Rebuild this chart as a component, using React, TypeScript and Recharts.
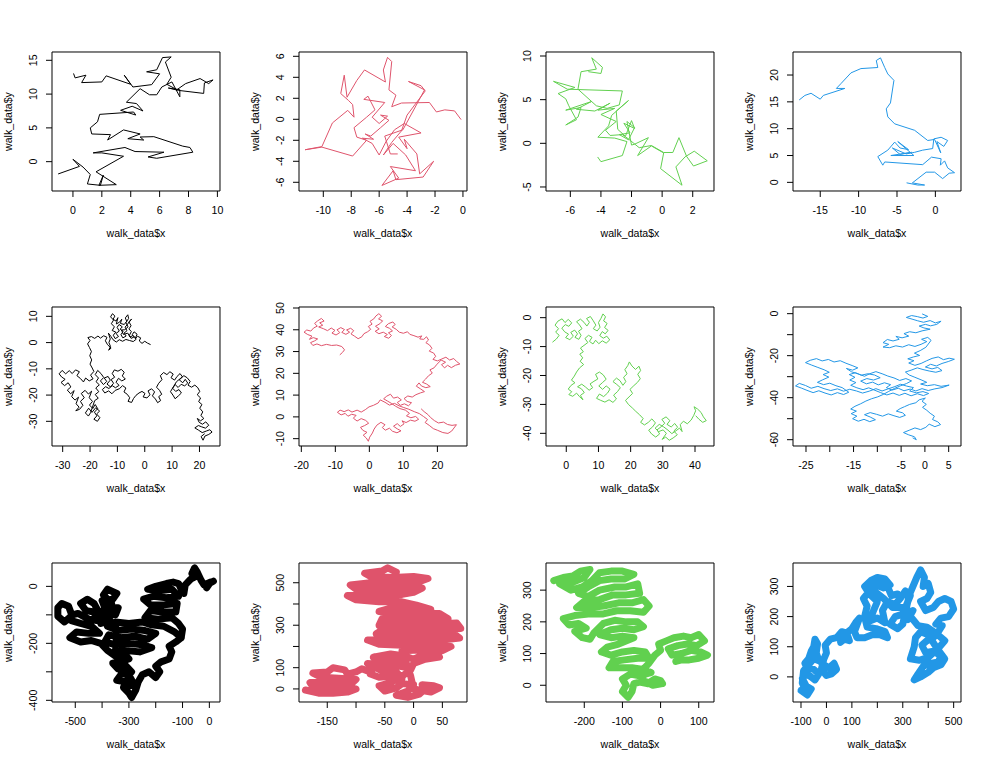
import { LineChart, Line, XAxis, YAxis, ReferenceArea } from "recharts";

type Pt = [number, number];

// ---- walks (x, y) ----
const walk1: Pt[] = [
  [-1.0, -1.8], [0.45, -0.7], [0.0, 0.35], [0.7, -0.8], [1.2, -1.9], [1.0, -3.3], [1.9, -3.5], [2.1, -2.0],
  [1.8, -3.5], [3.0, -3.4], [1.6, -1.5], [3.5, 0.8], [2.0, 1.3], [1.4, 1.3], [3.6, 2.1], [4.3, 1.5],
  [6.3, 1.4], [5.2, 0.7], [5.8, 0.5], [8.3, 1.4], [8.1, 2.1], [7.6, 2.3], [5.6, 3.7], [4.65, 3.65],
  [4.9, 3.2], [3.8, 3.4], [4.65, 4.1], [3.5, 4.7], [2.4, 3.2], [2.6, 4.0], [1.3, 4.1], [1.2, 5.0],
  [1.7, 5.9], [1.85, 7.0], [4.2, 7.35], [4.35, 6.9], [3.3, 7.6], [4.1, 8.2], [4.85, 7.5], [4.4, 8.6],
  [3.7, 8.8], [4.65, 10.8], [5.3, 9.9], [5.8, 9.9], [6.15, 11.05], [6.85, 11.8], [7.4, 9.6], [7.4, 10.65],
  [6.6, 10.9], [7.3, 10.55], [9.05, 10.1], [9.1, 11.65], [9.7, 12.1], [9.4, 11.55], [8.8, 12.3], [7.8, 11.55],
  [7.2, 10.65], [6.5, 11.45], [6.8, 12.5], [6.4, 14.75], [6.8, 15.5], [6.2, 15.4], [5.8, 13.6], [5.1, 13.3],
  [6.0, 13.0], [5.45, 11.4], [4.15, 11.05], [3.55, 12.8], [4.0, 11.45], [2.3, 12.7], [2.0, 11.8], [0.6, 11.7],
  [0.9, 12.8], [0.15, 12.4], [0.05, 13.0],
];

const walk2: Pt[] = [
  [-0.15, 0], [-0.6, 0.8], [-1.3, 0.9], [-1.9, 0.7], [-2.4, 1.6], [-4.4, 1.55], [-5.1, 1.2], [-4.8, 2.3],
  [-5.3, 2.8], [-5.1, 5.5], [-5.4, 5.9], [-5.7, 4.7], [-5.55, 3.55], [-7.05, 4.7], [-7.6, 3.7], [-8.3, 2.1],
  [-8.5, 4.2], [-8.75, 2.45], [-8.2, 1.8], [-7.9, 1.4], [-7.8, 0.2], [-8.25, 0.85], [-9.35, -0.35], [-10.1, -2.6],
  [-11.3, -2.9], [-10.1, -2.65], [-7.9, -3.5], [-6.9, -2.0], [-7.6, -1.7], [-7.8, -0.8], [-6.9, 0.2], [-6.3, 0.9],
  [-6.8, 2.2], [-7.1, 1.9], [-5.6, 1.6], [-6.5, 0.2], [-6.0, -0.4], [-5.4, 0.3], [-5.9, 0.4], [-5.3, -0.1],
  [-5.9, -0.8], [-6.6, -1.6], [-7.0, -1.4], [-6.4, -1.9], [-7.2, -1.8], [-6.5, -2.3], [-6.0, -3.4], [-5.5, -2.1],
  [-4.9, -1.0], [-4.2, -0.4], [-3.0, -1.3], [-4.6, -1.7], [-4.0, -2.8], [-4.2, -1.9], [-3.3, -3.3], [-3.1, -5.2],
  [-2.1, -4.0], [-2.85, -5.5], [-4.8, -5.75], [-5.0, -4.9], [-5.8, -6.3], [-4.6, -5.6], [-5.2, -4.5], [-3.4, -4.9],
  [-4.1, -3.4], [-5.0, -2.3], [-5.7, -3.4], [-5.1, -2.2], [-4.4, -1.1], [-4.0, 0.4], [-2.7, 2.7], [-3.0, 3.2],
  [-3.9, 3.6], [-2.75, 2.8], [-4.3, -1.0], [-5.6, -1.6], [-5.2, -3.3], [-4.7, -3.3],
];

const walk3: Pt[] = [
  [-4.2, -1.6], [-4.0, -2.1], [-2.6, -1.4], [-2.3, 0.2], [-3.1, 0.6], [-4.2, 0.7], [-3.5, 2.0], [-3.3, 3.2],
  [-2.2, 4.9], [-3.0, 3.7], [-2.9, 1.6], [-2.4, 0.8], [-2.0, 2.6], [-1.8, 1.7], [-2.5, 2.3], [-2.1, 1.2],
  [-2.8, 1.0], [-2.2, 0.4], [-1.8, 1.8], [-2.3, 2.5], [-2.0, -0.2], [-1.8, -0.1], [-0.9, 0.65], [-1.6, -1.4],
  [-0.7, -0.3], [0.1, -1.1], [-0.1, -2.9], [1.3, -4.8], [0.9, -2.7], [1.5, -1.55], [2.1, -0.9], [2.95, -2.0],
  [2.05, -2.6], [1.6, -1.5], [1.1, 0.65], [0.7, -1.05], [0.1, -1.05], [-0.7, -0.25], [-1.5, -0.5], [-2.2, 0.5],
  [-2.6, 1.0], [-3.4, 0.9], [-3.7, 1.5], [-3.0, 2.5], [-4.0, 3.3], [-3.1, 4.0], [-4.2, 3.8], [-3.4, 4.6],
  [-4.4, 3.7], [-5.6, 3.9], [-4.6, 4.8], [-6.3, 3.8], [-5.3, 4.1], [-5.5, 3.0], [-6.3, 2.1], [-5.6, 2.7],
  [-6.1, 4.3], [-6.3, 5.1], [-6.8, 5.7], [-5.7, 6.4], [-7.1, 7.1], [-6.2, 6.2], [-2.6, 6.0], [-2.8, 4.4],
  [-3.6, 4.0], [-4.3, 4.3], [-5.5, 6.2], [-5.3, 8.2], [-4.3, 8.5], [-4.6, 9.8], [-3.9, 8.7], [-4.0, 8.0],
  [-4.8, 8.2],
];

const walk4: Pt[] = [
  [-3.7, -0.1], [-2.3, -0.5], [-1.4, -0.5], [-3.0, -0.1], [-1.2, 1.9], [-0.1, 1.9], [0.95, 0.7], [1.8, 1.7],
  [2.5, 1.8], [1.6, 2.7], [1.2, 4.0], [0.65, 3.2], [0.75, 4.4], [-0.5, 4.7], [-1.65, 3.3], [-6.6, 3.8],
  [-6.85, 3.2], [-7.5, 4.8], [-6.2, 6.0], [-5.3, 7.5], [-4.6, 6.4], [-3.5, 6.1], [-4.9, 7.6], [-2.8, 5.0],
  [-5.8, 5.0], [-3.1, 5.6], [-4.6, 5.2], [-5.6, 6.4], [-3.8, 5.3], [-2.7, 5.6], [-1.65, 6.0], [-0.35, 6.3],
  [-0.2, 8.1], [0.75, 8.4], [1.6, 7.8], [1.1, 6.7], [0.2, 7.6], [0.7, 5.5], [-0.1, 8.0], [-1.0, 7.8],
  [-2.7, 9.7], [-5.3, 10.9], [-6.2, 12.2], [-6.4, 13.7], [-5.85, 14.8], [-5.4, 19.0], [-6.2, 20.2], [-6.6, 21.4],
  [-7.15, 23.2], [-7.7, 22.7], [-7.5, 21.4], [-9.7, 21.2], [-11.0, 20.4], [-12.3, 18.4], [-12.9, 17.5], [-11.8, 17.5],
  [-14.6, 16.2], [-15.0, 15.5], [-16.2, 16.6], [-17.0, 16.2], [-17.7, 15.4],
];

const walk5: Pt[] = [
  [2, -0.7], [1, -0.2], [0, 0.5], [-1, -0.3], [-2, 0.6], [-1.5, 1.8], [-2.6, 2.4], [-3.5, 1.5], [-2.8, 3.2],
  [-3.9, 4.1], [-4.6, 3], [-3.8, 2.2], [-5, 1.6], [-5.6, 2.8], [-4.9, 4.2], [-5.8, 5.2], [-5, 6.4], [-5.7, 7.8],
  [-4.8, 9], [-5.6, 8.1], [-6.4, 6.8], [-7.2, 5.9], [-6.5, 4.5], [-7.6, 3.6], [-6.8, 2.5], [-8, 1.8], [-8.7, 3],
  [-7.9, 4.3], [-9, 5.1], [-8.2, 6], [-9.4, 6.9], [-10.1, 5.8], [-9.3, 4.4], [-10.5, 3.5], [-9.6, 2.3],
  [-10.8, 1.5], [-11.5, 2.8], [-10.6, 4], [-11.9, 4.6], [-11.1, 6], [-12.2, 7.2], [-11.4, 8.6], [-12.5, 9.8],
  [-11.8, 11], [-10.9, 10.1], [-11.6, 8.9], [-10.5, 8.2], [-9.8, 9.5], [-10.4, 7.1], [-9.2, 7.8], [-8.4, 8.9],
  [-8.9, 7.3], [-7.5, 6.9], [-6.6, 8.1], [-7.1, 9.4], [-6.2, 10.6], [-5.9, 9.2], [-6.9, 7.6], [-6.1, 6],
  [-7.3, 4.9], [-8.5, 4.8], [-7.8, 3.1], [-6.2, 3.6], [-5.4, 2.1], [-4.3, 2.7], [-3.1, 1.3], [-4.2, 0.4],
  [-5.6, 0.8], [-6.9, 1.2], [-8.1, 0.5], [-9.3, 1.1], [-10.4, 0.2], [-11.6, 1.1], [-12.4, 2.4], [-13.3, 3.6],
  [-12.6, 1.4], [-13.1, 0], [-12.5, -1.5], [-13.2, -2.9], [-12.3, -2.1], [-13.6, -0.8], [-14.4, 0.7], [-13.8, 2],
  [-15, 2.6], [-16.2, 1.7], [-17.1, 2.5], [-18.3, 1.6], [-19.5, 2.3], [-20.8, 1.9], [-20, 0.8], [-20.9, -0.5],
  [-20.2, -1.9], [-19.5, -3.4], [-20.1, -5], [-19.4, -6.6], [-20, -8.2], [-19.2, -9.7], [-18.6, -11],
  [-19.8, -12.4], [-18.9, -13.8], [-20.3, -14.6], [-21.6, -13.5], [-22.4, -15], [-23.5, -13.7], [-24.8, -12.6],
  [-23.9, -11.1], [-25.3, -10.4], [-26.5, -11.8], [-27.6, -10.7], [-28.9, -11.9], [-30.2, -10.6], [-31.3, -11.9],
  [-30.4, -13.1], [-29.1, -14], [-30.6, -15.2], [-29.3, -16.4], [-28, -15.3], [-27, -16.9], [-28.3, -18.1],
  [-27.1, -19.5], [-25.8, -18.3], [-26.7, -20.6], [-25.5, -21.9], [-24.2, -20.8], [-25.1, -23.3], [-24, -24.6],
  [-25.2, -26], [-23.8, -25.4], [-22.6, -23.9], [-23.5, -22.4], [-22.1, -21], [-23.2, -19.4], [-21.8, -18.2],
  [-20.6, -19.6], [-19.4, -18.5], [-20.3, -21], [-19.1, -22.4], [-20.2, -23.8], [-19, -25.1], [-18.1, -23.6],
  [-17.2, -25.2], [-18.4, -26.5], [-17.5, -27.9], [-18.6, -29.2], [-17.3, -30], [-16.4, -28.6], [-17.6, -27.2],
  [-16.5, -26.1], [-17.9, -24.8], [-19.3, -26.6], [-20.5, -25], [-21.7, -26.8], [-20.6, -28], [-19.8, -26.7],
  [-18.3, -22.1], [-17, -21.2], [-18.1, -19.8], [-16.8, -18.7], [-17.9, -17.3], [-16.6, -16.1], [-17.8, -14.9],
  [-16.9, -13.5], [-18.1, -12.2], [-17.2, -10.6], [-16, -11.8], [-15, -13.3], [-16.2, -14.6], [-15.1, -16],
  [-13.9, -14.8], [-14.8, -13.5], [-13.4, -12.9], [-12.6, -14.3], [-13.8, -15.8], [-12.5, -16.9], [-11.4, -15.5],
  [-12.3, -14.1], [-11, -13.2], [-11.9, -11.8], [-11.1, -10.4], [-9.8, -10.9], [-8.6, -10.2], [-7.5, -11.3],
  [-8.2, -12.7], [-7.1, -13.9], [-8.4, -14.6], [-9.6, -13.6], [-10.5, -15.1], [-9.4, -16.3], [-10.7, -17.2],
  [-11.9, -16.4], [-13.1, -17.5], [-14.3, -16.8], [-15.5, -17.9], [-14.6, -19.2], [-13.2, -18.4], [-12, -19.5],
  [-10.8, -18.2], [-9.3, -17.6], [-8.1, -16.4], [-6.9, -17.3], [-7.6, -18.8], [-6.4, -19.7], [-5.5, -21],
  [-6.1, -22.4], [-4.8, -22.8], [-4.1, -21.3], [-3.2, -20.1], [-2.1, -19.2], [-1, -18.6], [0.1, -19.4],
  [-0.6, -20.7], [0.8, -21.1], [1.9, -19.9], [1.2, -18.4], [2.5, -17.6], [3.6, -18.8], [2.8, -20.3], [3.9, -21.5],
  [4.7, -22.9], [5.8, -22.1], [5.1, -20.6], [6.2, -19.7], [5.4, -18.2], [4.3, -17], [5.1, -15.5], [6.3, -14.1],
  [5.7, -12.6], [6.9, -11.4], [8.1, -12.2], [9.2, -11.1], [10.4, -12], [9.6, -13.4], [10.9, -14.3], [11.8, -12.9],
  [12.9, -11.8], [13.8, -13.1], [12.6, -14.2], [13.9, -15.3], [14.8, -14], [15.7, -15.4], [14.6, -16.5],
  [13.3, -15.9], [12.2, -17.1], [11.1, -16], [10.2, -17.4], [11.3, -18.6], [12.5, -17.9], [13.4, -19.2],
  [12.3, -20.3], [11.1, -21.4], [10.3, -20], [9.4, -18.7], [10.6, -16.6], [11.6, -14.9], [13, -13.7], [14.3, -12.6],
  [15.5, -13.4], [16.6, -14.8], [15.8, -16.2], [17.1, -17], [18.3, -16.2], [19.4, -17.2], [20.1, -18.6],
  [19.2, -19.9], [20.4, -21.1], [19.7, -22.5], [20.9, -23.6], [20.1, -25], [21.2, -26.4], [20.5, -27.8],
  [21.6, -28.9], [20.4, -29.8], [19.2, -28.9], [19.9, -30.4], [21.1, -31.1], [22.3, -30.2], [23.4, -31.5],
  [22.2, -32.6], [20.8, -32.1], [19.6, -31.6], [18.3, -32.5], [19.7, -33.4], [21, -34.3], [22.5, -33.7],
  [23.8, -33.2], [24.6, -34.1], [23.4, -35], [22, -35.6], [21.3, -37.2], [20.6, -35.8], [21.8, -34.8],
];

const walk6: Pt[] = [
  [-8.6, 28.6], [-7.9, 29.6], [-7.3, 30.8], [-8.1, 32.3], [-9.6, 33], [-11.1, 32.8], [-12.6, 33.3], [-14.1, 32.7],
  [-15.4, 33.5], [-16.6, 32.8], [-17.3, 34.1], [-16.1, 34.9], [-15.2, 35.8], [-16.5, 36.4], [-17.6, 35.6],
  [-16.9, 37.1], [-18.1, 37.8], [-19.2, 38.9], [-18.4, 39.9], [-17.2, 39.4], [-16.4, 40.8], [-15.3, 41.7],
  [-16.1, 42.9], [-15.2, 44.1], [-14.1, 45.2], [-13.3, 44], [-14.6, 43.2], [-13.7, 42.1], [-14.9, 41.3],
  [-13.5, 40.5], [-12.3, 39.6], [-11.2, 40.8], [-10.1, 39.7], [-11, 38.5], [-9.8, 37.6], [-8.7, 38.7], [-9.5, 40],
  [-8.4, 41], [-7.3, 40.1], [-8.1, 38.8], [-6.9, 37.9], [-5.8, 38.9], [-6.7, 39.9], [-5.5, 40.7], [-4.6, 39.6],
  [-5.4, 38.1], [-4.3, 37], [-3.3, 35.9], [-2.2, 36.8], [-1.6, 38.2], [-0.5, 39.1], [0.4, 40.2], [-0.3, 41.5],
  [0.8, 42.6], [0.2, 43.9], [1.3, 45], [1.9, 46.3], [2.8, 47.4], [3.6, 46.2], [2.7, 45], [3.9, 44.1], [3.1, 42.8],
  [1.8, 41.6], [2.9, 40.4], [1.7, 39.3], [2.8, 38.2], [4.1, 38.9], [5.3, 37.8], [4.4, 36.9], [5.7, 36.1],
  [6.5, 37.4], [5.6, 38.6], [6.8, 39.5], [5.9, 40.7], [4.7, 41.5], [5.6, 42.8], [6.9, 43.6], [7.6, 42.4],
  [6.7, 41.3], [7.9, 40.2], [8.8, 38.9], [10, 38.4], [11.2, 39.1], [11.9, 37.9], [13.1, 37.3], [14.3, 36.6],
  [15.4, 37.2], [14.8, 35.8], [16, 35.6], [16.8, 36.8], [17.4, 35.3], [16.6, 34.1], [17.7, 33], [18.4, 31.5],
  [17.6, 30.2], [18.9, 29.3], [19.5, 27.8], [18.7, 26.4], [20, 25.7], [21.3, 26.6], [22.5, 27.4], [23.6, 26.1],
  [24.8, 26.8], [25.6, 25.5], [26.6, 24.3], [25.3, 23.7], [24.1, 22.6], [23, 23.7], [22.1, 22.5], [21.2, 24],
  [22.4, 25.1], [21.1, 26.1], [19.9, 24.2], [19, 22.5], [17.8, 21.6], [18.5, 20.1], [17.4, 18.9], [16.5, 17.3],
  [15.6, 15.9], [16.8, 15.1], [17.9, 13.9], [16.6, 13.4], [15.3, 14.2], [14.6, 15.6], [13.8, 14.1], [15.1, 12.8],
  [16.2, 11.6], [15, 11], [13.7, 10.2], [12.6, 9.1], [11.3, 9.6], [10.2, 8.4], [11.1, 7.1], [12.4, 6.5],
  [11.5, 5.1], [10.3, 6], [9.1, 5.3], [8.2, 6.6], [9.4, 7.8], [8.3, 9.1], [7.1, 8.6], [6.2, 10.4], [5.1, 9.5],
  [4.2, 8.3], [5.4, 7.2], [6.6, 6.1], [7.7, 4.9], [9, 3.8], [10.6, 3.1], [11.8, 1.6], [10.9, 0.5], [12.2, -0.4],
  [13.6, 0.2], [14.5, -1.1], [13.4, -2], [12.1, -1.5], [10.8, -2.6], [9.6, -1.8], [10.2, -3.2], [9.1, -4.4],
  [8.2, -3.1], [7.1, -4.3], [8.2, -5.5], [9.3, -6.4], [8.1, -7.3], [6.8, -6.6], [5.9, -5.2], [4.7, -6.1],
  [3.8, -4.9], [4.6, -3.6], [3.4, -2.5], [2.2, -3.8], [1.4, -5.6], [0.9, -7.4], [0.1, -9.3], [-0.3, -11.2],
  [-0.9, -9.7], [-1.8, -8.4], [-0.7, -7.1], [-1.9, -6.2], [-2.6, -4.8], [-1.4, -4], [-0.2, -2.9], [-1.1, -1.6],
  [-2.4, -0.8], [-3.6, -1.9], [-4.7, -0.6], [-3.9, 0.7], [-5.2, 1.2], [-6.3, 0.3], [-7.1, 1.6], [-8.3, 0.9],
  [-9.4, 2.1], [-8.6, 3.1], [-7.4, 2.4], [-6.2, 3.2], [-5.1, 2.2], [-3.6, 3.1], [-2.4, 2.2], [-1.2, 3.3],
  [-0.1, 4.6], [1.2, 5.3], [2.6, 6.4], [3.2, 7.8], [4.6, 6.7], [5.9, 5.4], [7.4, 6.2], [8.7, 5.1], [10.1, 4.3],
  [11.6, 3.5], [13.2, 2.4], [14.7, 1.5], [15.9, 0.2], [17.1, -1.2], [16.4, -2.6], [17.6, -3.9], [18.8, -5.4],
  [20.1, -6.2], [21.6, -7.2], [23.1, -7.6], [24.2, -6.5], [25.6, -3.6], [24.3, -3.9], [23, -3.5], [21.8, -2.4],
  [20.3, -2.8], [19.1, -1.7], [18, -0.3], [17.2, 1.1], [16.1, 2.4], [15.3, 3.6],
];

const walk7: Pt[] = [
  [-4.2, -8.4], [-3.1, -7.4], [-2.2, -6.1], [-3.3, -5], [-2.4, -3.8], [-3.5, -2.6], [-2.6, -1.2], [-1.3, -0.4],
  [-0.4, -1.7], [0.6, -0.6], [1.7, -1.8], [0.8, -3], [-0.3, -2.4], [-1.4, -3.6], [-0.5, -4.9], [0.7, -5.7],
  [-0.2, -6.9], [1.1, -7.6], [2.2, -6.4], [1.4, -5.1], [2.6, -4.3], [3.5, -5.6], [2.7, -6.8], [3.9, -7.5],
  [4.6, -6.1], [3.8, -4.7], [4.9, -3.8], [4.1, -2.5], [3.2, -1.4], [4.4, -0.5], [5.5, -1.6], [6.4, -2.9],
  [7.2, -1.6], [6.3, -0.3], [7.5, 0.4], [8.4, -1.1], [9.2, -2.6], [8.4, -3.8], [9.6, -4.6], [10.5, -3.3],
  [10, -1.7], [10.8, -0.2], [11.4, 1.3], [12.2, 0.3], [11.6, -1.1], [12.7, -2], [11.9, -3.4], [13, -4.4],
  [12.1, -5.6], [11.2, -4.8], [10.4, -6.2], [11.5, -7.1], [12.6, -6.4], [13.5, -7.7], [12.4, -8.8], [11.2, -8],
  [10.1, -9], [9.1, -7.8], [8.3, -9.1], [7.2, -8.2], [8, -6.8], [6.9, -6.1], [5.8, -7.2], [6.7, -8.6], [5.5, -9.6],
  [4.4, -10.5], [5.3, -11.8], [4.2, -12.6], [5.1, -13.9], [4.3, -15.1], [5.4, -16.2], [4.1, -17.4], [3.2, -18.8],
  [2.5, -20.2], [1.6, -21.6], [2.7, -22.5], [1.5, -23.4], [0.6, -24.7], [1.7, -25.6], [0.8, -26.6], [2, -27.2],
  [3.2, -26.1], [4.1, -27.3], [5.2, -28.4], [4.4, -26.9], [5.6, -25.9], [4.7, -24.6], [3.5, -23.9], [4.8, -23],
  [6, -24], [7.1, -25.1], [8.2, -24.2], [7.4, -22.9], [8.6, -22], [9.8, -21.2], [9.1, -19.6], [10.3, -18.8],
  [11.5, -19.8], [12.4, -21.3], [11.2, -22.5], [10.1, -23.6], [11.3, -24.8], [12.4, -23.6], [13.6, -24.7],
  [12.8, -26.1], [11.6, -27.3], [10.3, -26.4], [9.4, -27.9], [10.7, -28.6], [12, -29.2], [13.3, -28.4],
  [14.5, -29.3], [15.6, -28.1], [14.7, -26.8], [15.9, -25.6], [16.8, -24.2], [15.7, -23.1], [14.5, -22.1],
  [15.6, -20.9], [16.7, -21.8], [17.6, -23.4], [18.5, -22.1], [17.8, -20.6], [18.9, -19.4], [18.2, -18],
  [19.1, -16.6], [19.6, -15.3], [20.4, -16.7], [21.5, -17.9], [22.6, -16.8], [23.1, -18.3], [22.2, -19.6],
  [23, -21.1], [22.1, -22.4], [21, -23.5], [19.8, -24.8], [20.6, -26.2], [19.5, -27.4], [18.4, -28.6],
  [19.3, -30], [20.5, -31.2], [21.6, -32.4], [22.8, -33.6], [23.9, -34.9], [23.1, -36.2], [24.3, -37.1],
  [25.5, -36.2], [26.6, -35], [27.7, -36.4], [26.8, -37.8], [25.6, -38.9], [26.5, -40.2], [27.8, -41.3],
  [29, -40.2], [28.2, -38.8], [29.5, -37.7], [30.6, -36.5], [29.7, -35.2], [31, -34.3], [32.2, -35.6],
  [31.3, -36.9], [32.6, -37.8], [33.7, -36.6], [34.6, -37.9], [33.4, -39.2], [34.5, -40.5], [33.2, -41.6],
  [32, -42.4], [30.9, -41.3], [29.8, -42.1], [31.1, -40], [30.1, -38.8], [28.7, -39.4], [27.6, -38.2],
  [28.9, -36.9], [30.3, -37.8], [31.6, -38.9], [32.8, -40.1], [34.1, -39.1], [35.2, -38.2], [36, -39.4],
  [35.4, -37], [36.4, -35.8], [37.6, -36.7], [38.8, -35.4], [39.6, -33.8], [40.2, -32.2], [39.7, -30.8],
  [40.8, -31.6], [41.9, -32.8], [42.6, -34.3], [43.5, -35.6], [42.4, -36.2], [41.2, -35.1], [40.3, -34],
];

const walk8: Pt[] = [
  [-0.5, -0.2], [0.6, -1.3], [-0.4, -2.1], [-1.6, -1.4], [-2.8, -0.9], [-3.9, -1.8], [-2.7, -2.6], [-1.5, -3.4],
  [-0.3, -4.1], [1.1, -3.3], [2.2, -4.4], [3.4, -3.6], [2.5, -5.1], [1.2, -5.8], [0.1, -5.1], [-1.2, -5.9],
  [-0.2, -6.8], [1.1, -7.4], [-0.6, -8.2], [-1.9, -9.1], [-3.2, -8.6], [-4.4, -9.5], [-3.4, -10.7], [-4.8, -11.5],
  [-6.1, -10.8], [-5.4, -12.2], [-6.7, -13], [-7.9, -12.3], [-8.8, -13.8], [-7.6, -14.6], [-8.8, -15.9],
  [-7.4, -16.2], [-6.1, -15.3], [-4.7, -15.9], [-3.4, -14.8], [-2.1, -15.6], [-0.8, -14.6], [0.4, -13.3],
  [-0.7, -12.2], [0.6, -11.3], [1.3, -12.7], [0.2, -16], [-1, -17.6], [-2.2, -18.8], [-1.1, -19.9], [-2.4, -20.6],
  [-3.6, -21.5], [-2.3, -22.4], [-3.4, -23.5], [-2.1, -24.6], [-0.8, -23.7], [0.3, -22.5], [1.5, -21.3],
  [2.8, -20.6], [3.9, -21.9], [5.1, -21.2], [6.2, -21.7], [4.9, -22.8], [3.6, -23.7], [2.4, -24.9], [1.2, -24.1],
  [0.1, -25.4], [1.5, -26.3], [2.7, -25.6], [3.6, -27.1], [2.3, -27.9], [0.9, -27.3], [-0.4, -26.6], [-1.6, -25.8],
  [-2.9, -26.9], [-4.1, -27.8], [-3.3, -29.2], [-2.1, -30.3], [-0.8, -31.5], [0.4, -32.7], [-0.9, -33.5],
  [0.5, -34.3], [2, -33.8], [3.4, -34.6], [5.1, -34], [3.6, -35.2], [2.1, -35.8], [0.7, -36.6], [-0.6, -35.7],
  [-1.9, -36.8], [-3.1, -35.9], [-4.4, -36.7], [-5.6, -35.5], [-6.9, -36.4], [-8.1, -35.2], [-7.2, -33.8],
  [-8.5, -32.9], [-9.8, -33.9], [-11, -32.6], [-12.3, -33.4], [-13.5, -32.1], [-12.2, -30.9], [-10.8, -31.6],
  [-9.4, -30.5], [-10.6, -29.2], [-12, -28.6], [-13.4, -29.3], [-14.6, -28.1], [-15.9, -29], [-14.7, -30.3],
  [-15.8, -31.6], [-14.5, -32.8], [-15.6, -34.1], [-14.3, -35.3], [-13, -36.2], [-11.8, -35.3], [-10.5, -36.5],
  [-9.3, -37.6], [-8, -38.7], [-6.7, -37.8], [-5.4, -38.9], [-4.2, -37.9], [-2.9, -39.1], [-1.6, -38.1],
  [-0.3, -39], [0.8, -38], [-0.4, -37.1], [-1.8, -37.7], [-3.2, -36.8], [-2.4, -35.2], [-3.8, -34.5],
  [-5.1, -33.6], [-6.3, -34.7], [-7.6, -35.7], [-9, -36.8], [-10.3, -35.7], [-11.7, -36.9], [-13.1, -37.8],
  [-14.4, -36.8], [-15.8, -36], [-17.1, -36.9], [-18.4, -35.8], [-19.8, -36.6], [-21.2, -35.7], [-22.5, -34.6],
  [-23.9, -35.5], [-25.1, -34.2], [-26.4, -33.2], [-27.2, -34.4], [-26, -35.4], [-24.8, -36.5], [-23.5, -37.6],
  [-22.3, -36.7], [-21, -37.8], [-19.7, -38.7], [-18.4, -37.6], [-17.1, -38.5], [-16, -37.4], [-17.4, -35.2],
  [-18.7, -34.3], [-20, -33.1], [-21.3, -33.8], [-22.6, -32.7], [-21.5, -31.5], [-20.2, -30.2], [-21.4, -29],
  [-20.1, -27.9], [-21.2, -26.7], [-22.5, -25.6], [-23.8, -24.5], [-25.1, -23.3], [-24.1, -22.2], [-22.8, -21.4],
  [-21.6, -22.5], [-20.3, -21.8], [-19.1, -23], [-17.8, -22.4], [-16.6, -23.6], [-15.3, -24.7], [-14.1, -25.8],
  [-15.2, -26.9], [-16.5, -26.1], [-15.4, -27.7], [-14, -28.7], [-12.7, -29.8], [-11.6, -28.6], [-10.3, -27.6],
  [-9, -28.6], [-7.8, -29.7], [-6.5, -30.6], [-5.3, -31.8], [-4, -30.9], [-2.8, -32], [-3.9, -33.3],
  [-5.2, -34.4], [-6.4, -35.6], [-7.6, -37], [-8.7, -38.4], [-9.9, -39.6], [-11.2, -40.5], [-12.4, -41.6],
  [-13.5, -42.9], [-14.7, -44.1], [-15.6, -45.4], [-14.4, -46.4], [-15.5, -47.6], [-14.3, -48.8], [-15.2, -50],
  [-14, -51.2], [-12.8, -50.3], [-11.6, -51.4], [-10.4, -50.5], [-11.5, -49.2], [-12.7, -48.1], [-11.5, -47.1],
  [-10.2, -47.9], [-8.9, -48.8], [-7.7, -47.7], [-6.5, -48.6], [-5.3, -49.4], [-4.1, -48.4], [-4.7, -47.2],
  [-6, -46.4], [-5.2, -45.2], [-4.3, -44.3], [-3.2, -43.2], [-1.9, -42.4], [-1.2, -41], [0.1, -40.2], [-0.6, -41.7],
  [0.3, -43.2], [-0.5, -44.6], [0.4, -46], [1.1, -47.4], [2, -48.8], [1.6, -50.4], [2.7, -51.5], [3.3, -52.8],
  [2.1, -53.8], [0.9, -52.6], [0.2, -54.1], [-0.9, -55.2], [-2.1, -54.4], [-3.3, -55.5], [-4.5, -56.6],
  [-3.4, -57.7], [-2.2, -58.6], [-1.8, -60], [-2.5, -59.2],
];

const walk9: Pt[] = [
  [15, 18], [0, 10], [-10, -5], [5, 15], [-20, 5], [-30, 20], [-45, 50], [-55, 65], [-65, 45], [-50, 35], [-70, 25],
  [-90, 5], [-95, -25], [-105, -10], [-115, 10], [-135, 15], [-160, 10], [-200, 0], [-230, -10], [-180, -15],
  [-140, -10], [-115, -35], [-160, -40], [-210, -35], [-245, -45], [-220, -65], [-170, -65], [-120, -60],
  [-125, -90], [-175, -90], [-220, -85], [-240, -110], [-190, -115], [-140, -110], [-115, -130], [-100, -150],
  [-105, -180], [-130, -160], [-170, -140], [-215, -135], [-250, -125], [-300, -130], [-350, -125], [-380, -140],
  [-340, -155], [-290, -150], [-240, -155], [-200, -165], [-230, -185], [-280, -175], [-330, -180], [-375, -170],
  [-390, -195], [-350, -205], [-300, -200], [-250, -205], [-215, -215], [-260, -230], [-310, -225], [-350, -230],
  [-345, -150], [-370, -120], [-405, -130], [-395, -100], [-350, -100], [-340, -75], [-390, -75], [-400, -50],
  [-360, -45], [-345, -25], [-380, -10], [-395, -30], [-365, -60], [-410, -95], [-430, -60], [-455, -45],
  [-480, -60], [-460, -85], [-430, -90], [-420, -120], [-450, -115], [-490, -95], [-510, -100], [-540, -125],
  [-565, -105], [-565, -75], [-550, -60], [-525, -70], [-515, -95], [-515, -120], [-480, -130], [-440, -140],
  [-410, -165], [-450, -165], [-495, -160], [-520, -180], [-480, -195], [-440, -190], [-405, -200], [-380, -225],
  [-350, -245], [-320, -235], [-300, -255], [-335, -265], [-360, -270], [-340, -290], [-310, -280], [-290, -300],
  [-330, -310], [-345, -330], [-315, -335], [-295, -320], [-280, -345], [-320, -355], [-300, -375], [-290, -390],
  [-275, -365], [-265, -335], [-250, -310], [-225, -300], [-200, -320], [-185, -300], [-200, -280], [-180, -265],
  [-150, -255], [-140, -230], [-150, -210], [-125, -195], [-105, -180],
];

const walk10: Pt[] = [
  [-188, -5], [-165, -20], [-140, -20], [-115, -15], [-100, 0], [-125, 10], [-150, 0], [-175, 10], [-180, 30],
  [-155, 30], [-130, 30], [-110, 20], [-100, 45], [-130, 50], [-160, 55], [-175, 75], [-150, 80], [-140, 100],
  [-120, 90], [-115, 70], [-100, 80], [-90, 95], [-80, 85], [-70, 100], [-75, 70], [-60, 55], [-40, 60], [-20, 50],
  [-30, 80], [-55, 85], [-80, 120], [-55, 115], [-30, 110], [-10, 100], [-20, 130], [-50, 145], [-70, 150],
  [-40, 165], [-15, 155], [0, 140], [20, 165], [40, 170], [45, 150], [20, 140], [0, 120], [-5, 90], [-20, 60],
  [-40, 30], [-60, 15], [-50, -10], [-30, 5], [-20, 25], [0, 20], [-10, -10], [-30, -30], [-10, -40], [10, -25],
  [20, 0], [15, 20], [35, 15], [45, 5], [30, -15], [0, 0], [-5, 60], [-20, 180], [20, 185], [50, 180], [65, 200],
  [30, 205], [-10, 205], [-60, 210], [-80, 230], [-40, 230], [10, 230], [50, 230], [80, 240], [70, 260], [30, 255],
  [-20, 255], [-65, 260], [-50, 285], [-10, 280], [40, 280], [82, 285], [75, 310], [30, 305], [-20, 305],
  [-60, 300], [-55, 330], [-15, 330], [20, 330], [60, 330], [45, 355], [10, 355], [-30, 355], [-60, 365],
  [-40, 380], [0, 375], [30, 375], [5, 395], [-20, 410], [-60, 410], [-100, 420], [-115, 440], [-85, 445],
  [-50, 440], [-20, 445], [0, 455], [15, 475], [-25, 475], [-65, 470], [-100, 470], [-110, 490], [-75, 500],
  [-35, 495], [5, 500], [25, 520], [0, 530], [-35, 525], [-75, 530], [-85, 545], [-55, 555], [-45, 570], [-30, 550],
];

const walk11: Pt[] = [
  [-280, 330], [-255, 340], [-230, 345], [-210, 360], [-185, 365], [-200, 340], [-240, 320], [-265, 320],
  [-235, 300], [-205, 310], [-180, 330], [-160, 355], [-130, 360], [-100, 360], [-70, 350], [-95, 335],
  [-130, 335], [-160, 330], [-190, 310], [-215, 290], [-190, 280], [-160, 300], [-120, 310], [-90, 310],
  [-60, 320], [-55, 290], [-90, 285], [-125, 285], [-160, 270], [-200, 265], [-220, 245], [-185, 245],
  [-150, 250], [-110, 260], [-75, 260], [-45, 270], [-30, 250], [-45, 230], [-80, 235], [-115, 235], [-150, 225],
  [-190, 225], [-225, 220], [-255, 210], [-240, 190], [-215, 195], [-195, 180], [-225, 170], [-205, 150],
  [-185, 145], [-175, 165], [-150, 195], [-120, 205], [-90, 200], [-60, 200], [-45, 185], [-70, 175], [-100, 180],
  [-130, 175], [-160, 160], [-130, 150], [-100, 155], [-70, 150], [-110, 130], [-140, 120], [-155, 105],
  [-130, 95], [-100, 105], [-70, 110], [-40, 105], [-30, 85], [-60, 85], [-95, 80], [-125, 75], [-135, 55],
  [-105, 55], [-75, 55], [-45, 50], [-25, 40], [-55, 30], [-80, 35], [-100, 20], [-90, 0], [-100, -20], [-85, -38],
  [-75, -20], [-70, 5], [-55, 10], [-35, 5], [-15, 20], [0, 15], [5, 5], [-20, 0], [-45, 15], [-50, 45], [-30, 70],
  [-15, 95], [0, 110], [-5, 130], [15, 140], [35, 150], [60, 155], [80, 150], [100, 160], [115, 140], [95, 125],
  [70, 130], [45, 125], [20, 115], [30, 95], [55, 100], [80, 110], [105, 105], [123, 95], [100, 85], [75, 80],
  [55, 80], [40, 75],
];

const walk12: Pt[] = [
  [-20, 50], [-50, 60], [-70, 40], [-90, 20], [-95, -20], [-80, -50],
  [-100, -45], [-75, -60], [-60, -40], [-80, -30], [-95, -5], [-80, 10], [-60, 0], [-45, -10], [-30, 10], [-50, 25],
  [-75, 30], [-85, 45], [-70, 60], [-60, 85], [-50, 100], [-45, 125], [-35, 110], [-40, 80], [-30, 55], [-10, 40],
  [10, 30], [30, 45], [40, 25], [20, 10], [0, 5], [-20, 25], [-10, 60], [0, 80], [-5, 105], [15, 125], [40, 130],
  [60, 150], [80, 145], [90, 120], [70, 125], [55, 115], [85, 150], [100, 160], [115, 180], [130, 195], [110, 150],
  [120, 130], [150, 130], [180, 140], [210, 140], [240, 130], [230, 150], [195, 160], [160, 165], [150, 200],
  [160, 235], [145, 260], [165, 280], [150, 300], [175, 320], [200, 330], [230, 325], [250, 305], [225, 295],
  [195, 305], [175, 270], [200, 250], [185, 220], [170, 185], [200, 195], [230, 180], [220, 220], [240, 250],
  [270, 240], [290, 260], [310, 285], [330, 270], [315, 240], [300, 210], [320, 190], [340, 220], [270, 200],
  [250, 175], [280, 160], [300, 175], [325, 270], [340, 300], [355, 330], [370, 355], [385, 330], [380, 300],
  [400, 310], [410, 280], [395, 260], [370, 250], [390, 220], [420, 230], [440, 250], [465, 260], [490, 250],
  [500, 225], [480, 200], [450, 195], [430, 175], [455, 170], [440, 150], [420, 130], [395, 120], [375, 105],
  [390, 80], [420, 85], [450, 70], [440, 50], [410, 45], [380, 35], [360, 10], [345, -10], [370, 0], [400, 15],
  [420, 30], [450, 40], [465, 60], [430, 100], [400, 140], [370, 150], [350, 130], [345, 100], [330, 60],
  [365, 55], [400, 65], [440, 95], [465, 120], [430, 145], [395, 165], [360, 170], [340, 190], [300, 230],
  [260, 230], [225, 260], [195, 280], [170, 300], [205, 315], [240, 300], [255, 270], [280, 275],
];

// ---- axis ranges, tick marks and the tick labels R kept ----
const xRange1 = [-1.45, 10.18], yRange1 = [-4.34, 16.23];
const xRange2 = [-11.74, 0.29], yRange2 = [-6.83, 6.41];
const xRange3 = [-7.59, 3.39], yRange3 = [-5.46, 10.46];
const xRange4 = [-18.55, 3.34], yRange4 = [-1.61, 24.29];
const xRange5 = [-33.9, 27.5], yRange5 = [-39.4, 13.56];
const xRange6 = [-20.68, 28.7], yRange6 = [-13.37, 50.46];
const xRange7 = [-6.3, 45.9], yRange7 = [-44.38, 3.69];
const xRange8 = [-27.73, 7.59], yRange8 = [-63.0, 3.17];
const xRange9 = [-586.8, 39.7], yRange9 = [-405.9, 82];
const xRange10 = [-199.1, 92.8], yRange10 = [-61.5, 593];
const xRange11 = [-300.3, 140], yRange11 = [-52.8, 385.6];
const xRange12 = [-131.4, 528.8], yRange12 = [-83.3, 377.8];

const xTicks1 = [0, 2, 4, 6, 8, 10], yTicks1 = [0, 5, 10, 15];
const xTicks2 = [-10, -8, -6, -4, -2, 0], yTicks2 = [-6, -4, -2, 0, 2, 4, 6];
const xTicks3 = [-6, -4, -2, 0, 2], yTicks3 = [-5, 0, 5, 10];
const xTicks4 = [-15, -10, -5, 0], yTicks4 = [0, 5, 10, 15, 20];
const xTicks5 = [-30, -20, -10, 0, 10, 20], yTicks5 = [-30, -20, -10, 0, 10];
const xTicks6 = [-20, -10, 0, 10, 20], yTicks6 = [-10, 0, 10, 20, 30, 40, 50];
const xTicks7 = [0, 10, 20, 30, 40], yTicks7 = [-40, -30, -20, -10, 0];
const xTicks8 = [-25, -20, -15, -10, -5, 0, 5], yTicks8 = [-60, -50, -40, -30, -20, -10, 0];
const xTicks9 = [-500, -400, -300, -200, -100, 0], yTicks9 = [-400, -300, -200, -100, 0];
const xTicks10 = [-150, -100, -50, 0, 50], yTicks10 = [0, 100, 200, 300, 400, 500];
const xTicks11 = [-200, -100, 0, 100], yTicks11 = [0, 100, 200, 300];
const xTicks12 = [-100, 0, 100, 200, 300, 400, 500], yTicks12 = [0, 100, 200, 300];

const xLabels8 = [-25, -15, -5, 0, 5], yLabels8 = [-60, -40, -20, 0];
const xLabels9 = [-500, -300, -100, 0], yLabels9 = [-400, -200, 0];
const xLabels10 = [-150, -50, 0, 50], yLabels10 = [0, 100, 300, 500];
const xLabels12 = [-100, 0, 100, 300, 500];

const colors = ["#000000", "#DF536B", "#61D04F", "#2297E6"];

const W = 247;
const H = 766 / 3;
const TOP = 52;
const PLOT_H = 139;
const FS = 10.6;
const FONT = "'Liberation Sans', Arial, Helvetica, sans-serif";

const XTick = ({ x, y, payload, labels }: any) =>
  labels.includes(payload.value) ? (
    <text x={x} y={y} dy="0.71em" textAnchor="middle" fontSize={FS} fontFamily={FONT} fill="#000">
      {String(payload.value)}
    </text>
  ) : (
    <g />
  );

const YTick = ({ x, y, payload, labels }: any) =>
  labels.includes(payload.value) ? (
    <text x={x} y={y} transform={`rotate(-90 ${x} ${y})`} textAnchor="middle" fontSize={FS} fontFamily={FONT} fill="#000">
      {String(payload.value)}
    </text>
  ) : (
    <g />
  );

function WalkPanel({ walk, color, xRange, yRange, xTicks, yTicks, xLabels, yLabels, lineWidth }: any) {
  const data = walk.map(([x, y]: Pt) => ({ x, y }));
  return (
    <LineChart width={W} height={H} data={data} margin={{ top: TOP, right: 27, bottom: 0, left: 0 }}>
      <XAxis
        dataKey="x"
        type="number"
        domain={xRange}
        allowDataOverflow
        ticks={xTicks}
        interval={0}
        axisLine={false}
        tickLine={{ stroke: "#000" }}
        tickSize={6}
        tickMargin={9.25}
        height={H - TOP - PLOT_H}
        tick={(p: any) => <XTick {...p} labels={xLabels} />}
        label={{ value: "walk_data$x", position: "insideTop", offset: 38.8, fill: "#000", fontSize: FS, fontFamily: FONT }}
      />
      <YAxis
        type="number"
        domain={yRange}
        allowDataOverflow
        ticks={yTicks}
        interval={0}
        axisLine={false}
        tickLine={{ stroke: "#000" }}
        tickSize={6}
        tickMargin={9.25}
        width={52}
        tick={(p: any) => <YTick {...p} labels={yLabels} />}
        label={{
          value: "walk_data$y",
          angle: -90,
          position: "insideLeft",
          offset: 8.25,
          fill: "#000",
          fontSize: FS,
          fontFamily: FONT,
          style: { textAnchor: "middle" },
        }}
      />
      <ReferenceArea
        x1={xRange[0]}
        x2={xRange[1]}
        y1={yRange[0]}
        y2={yRange[1]}
        fill="none"
        stroke="#000"
        strokeWidth={1}
        ifOverflow="visible"
      />
      <Line
        dataKey="y"
        stroke={color}
        strokeWidth={lineWidth}
        strokeLinejoin="round"
        strokeLinecap="round"
        dot={false}
        activeDot={false}
        isAnimationActive={false}
      />
    </LineChart>
  );
}

const panels = [
  { walk: walk1, xRange: xRange1, yRange: yRange1, xTicks: xTicks1, yTicks: yTicks1 },
  { walk: walk2, xRange: xRange2, yRange: yRange2, xTicks: xTicks2, yTicks: yTicks2 },
  { walk: walk3, xRange: xRange3, yRange: yRange3, xTicks: xTicks3, yTicks: yTicks3 },
  { walk: walk4, xRange: xRange4, yRange: yRange4, xTicks: xTicks4, yTicks: yTicks4 },
  { walk: walk5, xRange: xRange5, yRange: yRange5, xTicks: xTicks5, yTicks: yTicks5 },
  { walk: walk6, xRange: xRange6, yRange: yRange6, xTicks: xTicks6, yTicks: yTicks6 },
  { walk: walk7, xRange: xRange7, yRange: yRange7, xTicks: xTicks7, yTicks: yTicks7 },
  { walk: walk8, xRange: xRange8, yRange: yRange8, xTicks: xTicks8, yTicks: yTicks8, xLabels: xLabels8, yLabels: yLabels8 },
  { walk: walk9, xRange: xRange9, yRange: yRange9, xTicks: xTicks9, yTicks: yTicks9, xLabels: xLabels9, yLabels: yLabels9 },
  { walk: walk10, xRange: xRange10, yRange: yRange10, xTicks: xTicks10, yTicks: yTicks10, xLabels: xLabels10, yLabels: yLabels10 },
  { walk: walk11, xRange: xRange11, yRange: yRange11, xTicks: xTicks11, yTicks: yTicks11 },
  { walk: walk12, xRange: xRange12, yRange: yRange12, xTicks: xTicks12, yTicks: yTicks12, xLabels: xLabels12 },
];

export default function App() {
  return (
    <div style={{ position: "absolute", left: 0, top: 0, width: 988, height: 766, background: "#fff" }}>
      {panels.map((p, i) => (
        <div key={i} style={{ position: "absolute", left: (i % 4) * W, top: Math.floor(i / 4) * H }}>
          <WalkPanel
            {...p}
            xLabels={p.xLabels ?? p.xTicks}
            yLabels={p.yLabels ?? p.yTicks}
            color={colors[i % 4]}
            lineWidth={i >= 8 ? 7 : 1}
          />
        </div>
      ))}
    </div>
  );
}
